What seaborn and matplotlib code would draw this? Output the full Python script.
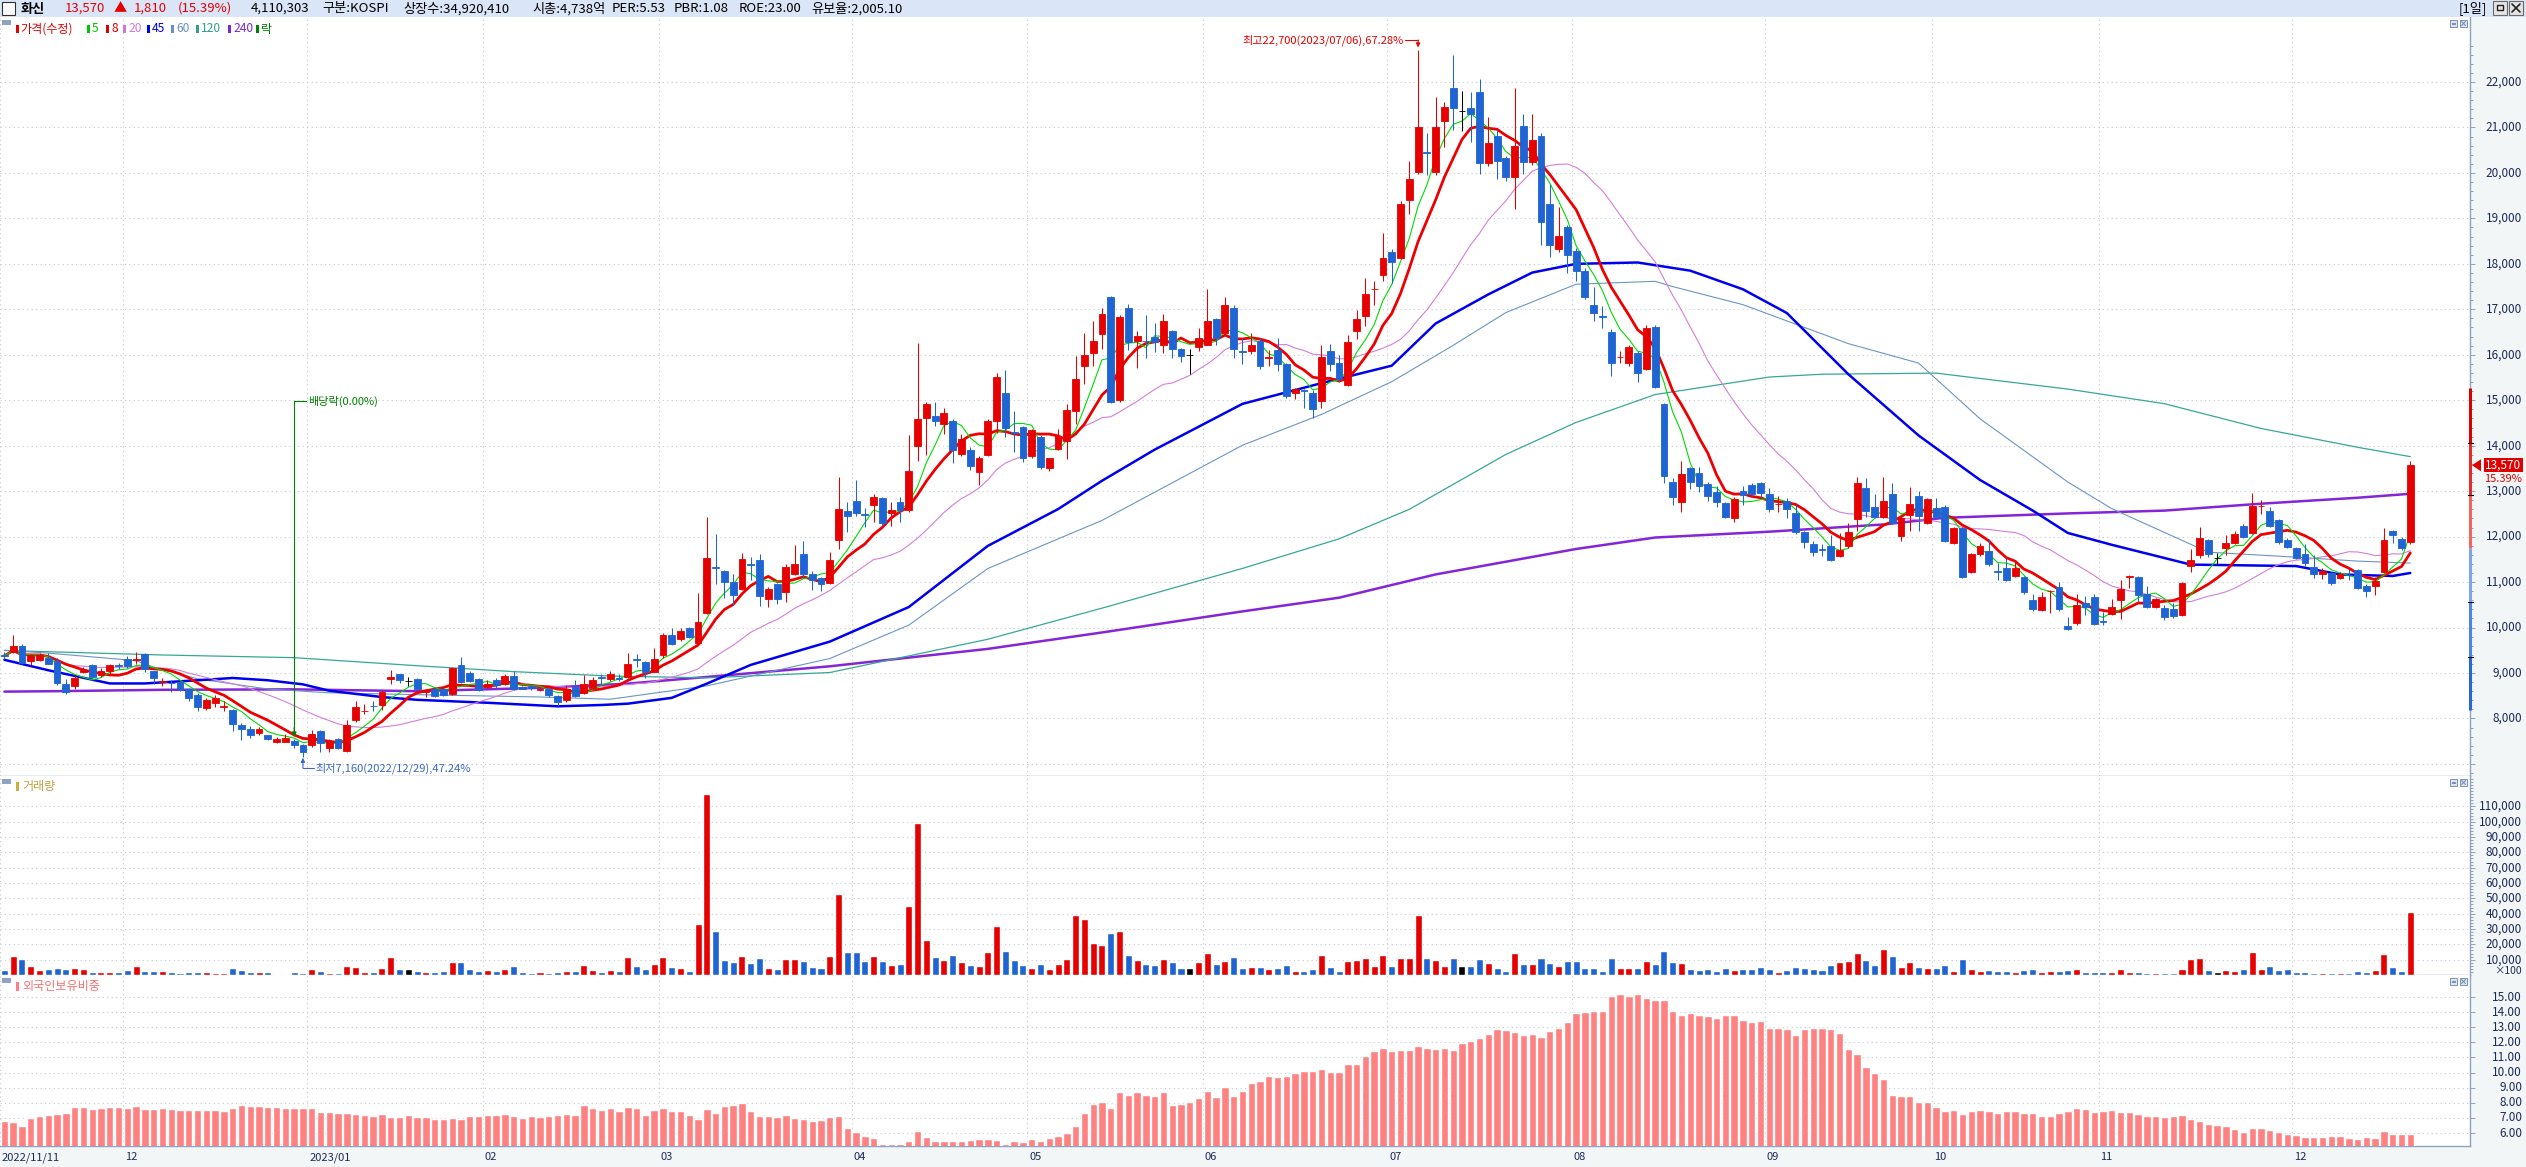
import numpy as np
import pandas as pd
import matplotlib
matplotlib.use('Agg')
import matplotlib.pyplot as plt
import matplotlib.transforms as mtransforms
from matplotlib.patches import Rectangle, Polygon
from matplotlib.lines import Line2D
from matplotlib.ticker import FixedLocator
import seaborn as sns

# ---- daily candles (2022/11/11 .. 2023/12) ----
opens = [
    9400, 9454, 9603, 9254, 9288, 9337, 9271, 8747, 8722, 9030,
    9171, 8955, 9038, 9170, 9304, 9280, 9420, 9038, 8810, 8790,
    8805, 8639, 8523, 8224, 8340, 8260, 8190, 7858, 7774, 7675,
    7625, 7492, 7492, 7509, 7425, 7409, 7724, 7359, 7542, 7276,
    7957, 8160, 8280, 8290, 8872, 8972, 8814, 8870, 8590, 8640,
    8640, 8540, 9170, 8990, 8875, 8700, 8855, 8766, 8933, 8700,
    8720, 8630, 8640, 8500, 8395, 8700, 8570, 8678, 8920, 8875,
    8880, 8913, 9300, 9247, 9031, 9404, 9835, 9756, 9991, 9658,
    10325, 11330, 11250, 11010, 10854, 11390, 11480, 10619, 10952, 10775,
    11187, 11618, 11187, 11090, 10980, 11920, 12568, 12792, 12490, 12692,
    12842, 12518, 12767, 12593, 14000, 14610, 14660, 14473, 14535, 13813,
    13912, 13414, 13788, 14535, 15157, 14300, 14410, 13763, 14187, 13514,
    13937, 14100, 14759, 15755, 16029, 16465, 17274, 14996, 17025, 16303,
    16310, 16400, 16216, 16527, 16116, 16000, 16180, 16216, 16776, 16477,
    17025, 16090, 16080, 16304, 15930, 16112, 15792, 15168, 15220, 15168,
    14992, 16080, 15824, 15344, 16528, 16848, 17440, 17744, 18256, 18128,
    19408, 20016, 20460, 20016, 21136, 21872, 21360, 21424, 21776, 20208,
    20816, 20336, 19920, 21040, 20240, 20816, 19312, 18320, 18800, 18288,
    17840, 17104, 16860, 16496, 15940, 15824, 16048, 15696, 16600, 14923,
    13209, 12769, 13503, 13405, 13160, 12989, 12744, 12402, 13014, 13136,
    13185, 12940, 12710, 12793, 12524, 12108, 11838, 11725, 11790, 11569,
    11790, 12377, 13062, 12647, 12426, 12940, 12010, 12475, 12891, 12303,
    12622, 12647, 11863, 12181, 11226, 11618, 11692, 11235, 11300, 11128,
    11104, 10614, 10394, 10800, 10884, 10040, 10110, 10546, 10677, 10140,
    10307, 10611, 11110, 11112, 10742, 10459, 10437, 10415, 10285, 11352,
    11592, 11918, 11526, 11744, 11853, 12223, 12071, 12670, 12571, 12376,
    11918, 11744, 11613, 11330, 11178, 11200, 11091, 11160, 11265, 10916,
    10916, 11221, 12114, 11940, 11875,
]
highs = [
    9460, 9828, 9636, 9420, 9437, 9437, 9337, 8872, 8955, 9130,
    9188, 9104, 9188, 9230, 9370, 9470, 9437, 9054, 8889, 8839,
    8839, 8672, 8556, 8440, 8507, 8373, 8207, 7907, 7841, 7808,
    7642, 7592, 7658, 7558, 7442, 7741, 7741, 7542, 7575, 7974,
    8390, 8323, 8373, 8623, 9070, 8972, 8922, 8890, 8640, 8700,
    8660, 9130, 9345, 9050, 8895, 8855, 8895, 8970, 9050, 8720,
    8760, 8660, 8680, 8520, 8740, 8845, 8953, 8915, 8980, 9050,
    8972, 9443, 9420, 9267, 9541, 9874, 9991, 9991, 10011, 10756,
    12441, 12050, 11270, 11167, 11638, 11560, 11618, 10893, 10972, 11400,
    11814, 11912, 11246, 11109, 11670, 13315, 12767, 13240, 12630, 12940,
    12866, 12767, 12866, 14236, 16253, 14958, 14958, 14822, 14585, 14262,
    13962, 13763, 14585, 15605, 15655, 14760, 14435, 14361, 14237, 13738,
    14360, 14909, 15967, 16477, 16751, 17025, 17300, 16876, 17124, 16527,
    16876, 16700, 16900, 16552, 16154, 16129, 16582, 17448, 16801, 17274,
    17100, 16368, 16480, 16368, 16096, 16368, 15824, 15264, 15248, 15216,
    16208, 16240, 15984, 16432, 16976, 17680, 17616, 18672, 18320, 19376,
    20272, 22700, 20880, 21680, 21552, 22600, 21808, 21776, 22064, 21232,
    20944, 20368, 21872, 21296, 21296, 20880, 19760, 19248, 18864, 18352,
    17904, 17488, 17072, 16560, 16080, 16208, 16080, 16656, 16650, 14950,
    13283, 13674, 13528, 13528, 13209, 13111, 12769, 12867, 13111, 13185,
    13209, 13062, 12891, 12842, 12695, 12132, 11912, 11838, 12034, 12083,
    12304, 13307, 13283, 12940, 13307, 13185, 12426, 13087, 13014, 12842,
    12842, 12695, 12206, 12206, 11643, 11863, 11937, 11422, 11520, 11471,
    11128, 10737, 10786, 10815, 11010, 10240, 10742, 10698, 10742, 10350,
    10633, 11047, 11156, 11134, 10916, 10655, 10502, 10546, 11003, 11722,
    12201, 11940, 11635, 12027, 12114, 12267, 12963, 12811, 12659, 12398,
    11962, 11766, 11831, 11591, 11308, 11221, 11221, 11287, 11287, 10960,
    11112, 12180, 12136, 11984, 13671,
]
lows = [
    9300, 9437, 9188, 9171, 9254, 9188, 8730, 8540, 8647, 8990,
    8900, 8922, 8980, 9080, 9104, 9188, 9021, 8756, 8722, 8590,
    8606, 8390, 8174, 8190, 8257, 8174, 7733, 7525, 7575, 7642,
    7525, 7459, 7475, 7342, 7160, 7376, 7259, 7259, 7326, 7259,
    7924, 8090, 8174, 8190, 8756, 8772, 8706, 8620, 8480, 8470,
    8500, 8520, 8780, 8795, 8600, 8680, 8680, 8737, 8620, 8640,
    8620, 8600, 8480, 8265, 8365, 8480, 8540, 8620, 8737, 8815,
    8815, 8895, 9140, 8895, 9012, 9325, 9620, 9698, 9776, 9620,
    10305, 10950, 10660, 10500, 10815, 11050, 10480, 10442, 10521, 10560,
    11148, 11088, 10834, 10795, 10950, 11733, 12107, 12443, 12220, 12318,
    12244, 12244, 12318, 12543, 13664, 13788, 14436, 14262, 13614, 13763,
    13464, 13141, 13763, 14286, 14187, 13863, 13638, 13738, 13489, 13440,
    13912, 13713, 14473, 15357, 15755, 16130, 14934, 14960, 16104, 15705,
    15929, 16055, 16030, 15930, 15842, 15580, 16080, 16204, 16204, 16427,
    15930, 15792, 16016, 15696, 15760, 15632, 15056, 15024, 14832, 14608,
    14832, 15632, 15408, 15312, 16336, 16624, 17104, 17616, 17584, 18096,
    19088, 19984, 19952, 19952, 20560, 20944, 20912, 20688, 19984, 20144,
    19856, 19824, 19216, 19984, 20176, 18416, 18160, 18256, 17808, 17616,
    17232, 16752, 16592, 15536, 15824, 15760, 15408, 15664, 15270, 13185,
    12695, 12548, 13038, 12989, 12793, 12646, 12402, 12328, 12695, 12891,
    12867, 12548, 12548, 12402, 12059, 11740, 11569, 11569, 11471, 11545,
    11740, 12132, 12426, 12402, 12402, 12279, 11912, 12132, 12132, 12279,
    12377, 11887, 11838, 11079, 11201, 11569, 11349, 11055, 11030, 11104,
    10737, 10369, 10369, 10320, 10369, 9940, 10045, 10285, 10045, 10045,
    10285, 10198, 10873, 10568, 10437, 10437, 10176, 10220, 10263, 11221,
    11526, 11548, 11374, 11591, 11831, 11962, 12049, 12506, 12201, 11831,
    11744, 11504, 11352, 11091, 11069, 10938, 11069, 11047, 10851, 10677,
    10720, 11200, 11853, 11700, 11830,
]
closes = [
    9380, 9603, 9221, 9387, 9387, 9204, 8789, 8573, 8889, 9070,
    8922, 9038, 9171, 9150, 9154, 9312, 9088, 8889, 8830, 8770,
    8639, 8457, 8257, 8407, 8440, 8280, 7874, 7758, 7625, 7758,
    7542, 7558, 7575, 7409, 7259, 7658, 7459, 7509, 7359, 7858,
    8257, 8170, 8270, 8590, 8922, 8839, 8814, 8650, 8600, 8490,
    8520, 9110, 8800, 8815, 8620, 8757, 8737, 8933, 8640, 8650,
    8680, 8640, 8520, 8365, 8640, 8500, 8767, 8855, 8900, 8972,
    8870, 9188, 9285, 9012, 9306, 9835, 9639, 9913, 9796, 10129,
    11540, 11310, 11010, 10717, 11500, 11370, 10697, 10854, 10619, 11324,
    11400, 11167, 11050, 10950, 11490, 12605, 12443, 12518, 12480, 12866,
    12294, 12593, 12593, 13440, 14597, 14908, 14535, 14722, 13912, 14137,
    13564, 13726, 14535, 15506, 14386, 14280, 13738, 14336, 13540, 13726,
    14211, 14784, 15456, 16004, 16303, 16900, 14971, 16826, 16278, 16403,
    16300, 16280, 16751, 16130, 15980, 16000, 16378, 16751, 16378, 17087,
    16130, 16070, 16208, 15760, 15940, 15792, 15088, 15248, 15210, 14816,
    15952, 15792, 15472, 16272, 16784, 17328, 17456, 18128, 18032, 19312,
    19872, 21008, 20448, 21008, 21456, 21424, 21360, 21296, 20208, 20656,
    20272, 19920, 20592, 20240, 20720, 18928, 18416, 18608, 18192, 17840,
    17264, 16912, 16840, 15824, 15960, 16176, 15600, 16592, 15300, 13332,
    12867, 13381, 13209, 13111, 12891, 12769, 12426, 12818, 12916, 12940,
    12964, 12597, 12720, 12597, 12108, 11887, 11667, 11715, 11496, 11716,
    12108, 13185, 12573, 12426, 12793, 12303, 12402, 12720, 12450, 12818,
    12426, 11912, 12181, 11104, 11618, 11790, 11398, 11225, 11055, 11300,
    10786, 10418, 10663, 10810, 10410, 9960, 10502, 10459, 10067, 10132,
    10459, 10851, 11123, 10720, 10459, 10633, 10241, 10263, 10981, 11483,
    11962, 11613, 11526, 11853, 12049, 11984, 12680, 12680, 12223, 11875,
    11766, 11526, 11417, 11178, 11243, 10982, 11178, 11150, 10873, 10807,
    11025, 11918, 12027, 11760, 13570,
]
# volume, in units of 100 shares (axis label "x100")
volumes = [
    3250, 12500, 10500, 6000, 3500, 4000, 4750, 4000, 4750, 4000,
    2000, 2000, 2000, 2000, 3500, 6000, 2750, 2750, 2750, 2000,
    1500, 2000, 2000, 2000, 1500, 1500, 4750, 3500, 2000, 2000,
    2000, 750, 750, 2000, 1500, 4000, 2750, 1500, 1500, 6000,
    5250, 2000, 2000, 4750, 12000, 4000, 3700, 2330, 1750, 1750,
    2330, 8450, 8450, 3790, 2330, 3200, 2330, 3790, 5830, 1750,
    1170, 1750, 1170, 1750, 2330, 2330, 6400, 3500, 1750, 3200,
    2330, 11660, 5830, 3790, 7000, 11660, 4960, 4370, 2330, 33240,
    118000, 28570, 9620, 8450, 12540, 7580, 10790, 4370, 3790, 10500,
    10500, 9040, 4960, 4370, 12240, 52670, 14840, 14840, 8900, 12610,
    8900, 6310, 7420, 45250, 99030, 22630, 11500, 10010, 13350, 8160,
    6310, 5560, 15210, 32270, 15950, 9640, 6310, 4820, 7420, 3710,
    7420, 10760, 38950, 36350, 20770, 19290, 27080, 28930, 13350, 10010,
    7420, 6310, 10760, 8160, 4450, 4450, 8160, 14100, 7050, 8900,
    11500, 4750, 5230, 5230, 3800, 4280, 6650, 2850, 2850, 3800,
    13310, 5230, 2380, 9030, 9980, 11410, 5700, 13310, 5700, 11410,
    11410, 38970, 10930, 9510, 6180, 10930, 5700, 6180, 10460, 7600,
    4280, 2850, 14260, 7130, 7130, 10930, 7600, 5700, 9030, 9030,
    4750, 4280, 2380, 10930, 4280, 4280, 4280, 9030, 7200, 15600,
    8700, 7980, 3990, 3260, 3990, 2900, 4720, 3260, 3990, 3990,
    5440, 3990, 2180, 3260, 5440, 4720, 3990, 3260, 6530, 8700,
    9430, 14510, 9790, 6530, 17050, 12700, 5440, 8700, 5440, 4720,
    4720, 6530, 2900, 10520, 3990, 2900, 3260, 2900, 2900, 2180,
    3260, 3990, 2180, 2900, 2930, 3250, 4230, 1950, 1950, 1950,
    1950, 4230, 2280, 2280, 1630, 1300, 1300, 1300, 4230, 10730,
    11380, 3250, 2280, 3580, 2930, 4230, 15280, 4230, 6180, 3580,
    4230, 2280, 2280, 1630, 1300, 1630, 1300, 1300, 2930, 1950,
    3250, 13980, 5530, 2930, 41100,
]
# foreign ownership ratio (%)
foreign_ratio = [
    6.80, 6.72, 6.46, 6.99, 7.12, 7.20, 7.25, 7.32, 7.73, 7.73,
    7.58, 7.65, 7.73, 7.73, 7.65, 7.78, 7.58, 7.58, 7.65, 7.58,
    7.52, 7.52, 7.52, 7.52, 7.52, 7.45, 7.65, 7.85, 7.78, 7.78,
    7.73, 7.73, 7.65, 7.65, 7.65, 7.65, 7.38, 7.38, 7.32, 7.32,
    7.25, 7.20, 7.12, 7.25, 7.05, 7.05, 7.20, 7.08, 7.08, 6.96,
    6.90, 7.02, 6.96, 7.14, 7.14, 7.20, 7.20, 7.26, 7.14, 7.02,
    7.14, 7.08, 7.14, 7.20, 7.26, 7.20, 7.88, 7.67, 7.55, 7.67,
    7.49, 7.73, 7.67, 7.20, 7.55, 7.67, 7.43, 7.43, 7.20, 6.96,
    7.61, 7.34, 7.76, 7.88, 7.99, 7.43, 7.14, 7.14, 7.08, 7.20,
    7.02, 6.90, 6.79, 6.84, 7.04, 7.15, 6.32, 6.06, 5.80, 5.68,
    5.27, 5.27, 5.27, 5.46, 6.13, 5.75, 5.46, 5.46, 5.44, 5.44,
    5.53, 5.59, 5.59, 5.53, 5.27, 5.44, 5.40, 5.59, 5.46, 5.68,
    5.80, 6.02, 6.48, 7.34, 7.90, 8.05, 7.68, 8.73, 8.54, 8.73,
    8.54, 8.46, 8.73, 7.87, 7.94, 8.05, 8.32, 8.81, 8.39, 9.07,
    8.46, 8.78, 9.31, 9.46, 9.79, 9.70, 9.79, 9.94, 10.09, 10.09,
    10.23, 10.05, 10.05, 10.57, 10.57, 11.10, 11.43, 11.62, 11.43, 11.47,
    11.47, 11.77, 11.62, 11.58, 11.62, 11.47, 11.96, 12.06, 12.30, 12.54,
    12.87, 12.82, 12.69, 12.50, 12.54, 12.35, 12.74, 12.97, 13.36, 13.93,
    13.98, 14.08, 14.08, 15.09, 15.18, 15.09, 15.18, 14.97, 14.78, 14.79,
    14.05, 13.83, 13.94, 13.79, 13.72, 13.61, 13.83, 13.83, 13.46, 13.35,
    13.42, 12.95, 12.95, 12.87, 12.47, 12.87, 12.95, 12.95, 12.87, 12.62,
    11.55, 11.22, 10.38, 9.97, 9.57, 8.50, 8.43, 8.43, 8.06, 8.06,
    7.70, 7.44, 7.51, 7.25, 7.44, 7.51, 7.44, 7.33, 7.44, 7.44,
    7.33, 7.33, 7.14, 7.14, 7.33, 7.44, 7.66, 7.59, 7.37, 7.47,
    7.53, 7.37, 7.37, 7.24, 7.14, 7.14, 7.08, 7.14, 7.17, 6.94,
    6.77, 6.58, 6.51, 6.45, 6.25, 6.05, 6.32, 6.32, 6.18, 6.05,
    5.92, 5.85, 5.72, 5.72, 5.72, 5.78, 5.78, 5.65, 5.58, 5.72,
    5.65, 6.12, 5.92, 5.92, 5.92,
]

# long moving averages (need history before the window): read at sample bars
ma45_idx = [0, 5, 12, 16, 22, 26, 30, 34, 37, 43, 47, 55, 63, 68, 71, 76, 80, 85, 94,
            103, 112, 120, 125, 131, 141, 150, 158, 163, 169, 174, 179, 186, 192, 198,
            203, 210, 218, 225, 231, 235, 240, 249, 261, 266, 272, 274]
ma45_val = [9290, 9060, 8770, 8770, 8840, 8890, 8840, 8750, 8610, 8470, 8410, 8345, 8267,
            8296, 8325, 8453, 8766, 9178, 9690, 10451, 11796, 12605, 13228, 13913, 14920,
            15376, 15760, 16688, 17328, 17808, 18000, 18030, 17850, 17440, 16918, 15572,
            14225, 13246, 12573, 12080, 11820, 11384, 11352, 11167, 11134, 11200]
ma60_idx = [0, 5, 15, 17, 22, 30, 37, 47, 61, 69, 80, 94, 103, 112, 125, 141, 150, 158,
            165, 171, 179, 188, 190, 198, 210, 218, 225, 235, 240, 246, 251, 261, 268, 274]
ma60_val = [9500, 9437, 9271, 9130, 8872, 8647, 8564, 8523, 8472, 8423, 8717, 9318, 10053,
            11298, 12356, 14010, 14688, 15408, 16208, 16928, 17552, 17616, 17500, 17102,
            16245, 15817, 14592, 13200, 12615, 12092, 11657, 11548, 11461, 11417]
ma120_idx = [0, 18, 33, 47, 58, 69, 80, 94, 112, 125, 141, 152, 160, 171, 179, 188, 201,
             207, 220, 235, 246, 257, 268, 274]
ma120_val = [9495, 9396, 9337, 9160, 9030, 8933, 8894, 9010, 9742, 10426, 11300, 11950,
             12600, 13808, 14512, 15125, 15510, 15572, 15596, 15245, 14924, 14379, 13965, 13759]
ma240_idx = [0, 6, 18, 33, 47, 62, 71, 80, 94, 112, 125, 141, 152, 163, 179, 188, 201, 214,
             221, 235, 246, 257, 268, 274]
ma240_val = [8590, 8600, 8630, 8640, 8600, 8678, 8766, 8913, 9147, 9530, 9891, 10355, 10656,
             11168, 11728, 11980, 12108, 12267, 12414, 12510, 12572, 12724, 12855, 12942]

# month boundaries (bar index of first trading day) and their labels
month_start = [0, 14, 35, 55, 75, 97, 117, 137, 158, 179, 201, 220, 239, 261]
month_labels = ['2022/11/11', '12', '2023/01', '02', '03', '04', '05', '06', '07', '08',
                '09', '10', '11', '12']

# price-distribution bar on the right axis: level boundaries
range_levels = [15269, 14059, 12915, 11749, 10562, 9352, 8186]

high_bar, high_val = 161, 22700
low_bar, low_val = 34, 7160
exdiv_bar = 33

n = len(closes)
assert all(len(a) == n for a in (opens, highs, lows, volumes, foreign_ratio))

# ---------------- style ----------------
sns.set_style('white')
FAM = ['Noto Sans CJK KR', 'DejaVu Sans']
plt.rcParams['font.family'] = FAM
plt.rcParams['axes.unicode_minus'] = False

RED, BLUE, BLACK = '#e60000', '#1e64d2', '#000000'
AXC, LABC, GRIDC = '#8ea2c2', '#1c2a5a', '#c3cad4'
FORC = '#ff8282'
PAL = {'up': RED, 'down': BLUE, 'flat': BLACK}

W, H = 2526, 1167
def fx(px):
    return px / W
def fy(py):
    return 1 - py / H

PLOT_R = 2470
BAR0, STEP = 4.3, 8.781          # pixel centre of bar 0 and bar pitch
XL = -BAR0 / STEP
XR = (PLOT_R - BAR0) / STEP

fig = plt.figure(figsize=(W / 100, H / 100), dpi=100, facecolor='#f2f6f6')
ax_p = fig.add_axes([0, fy(775.5), fx(PLOT_R), (775.5 - 17) / H])
ax_v = fig.add_axes([0, fy(975), fx(PLOT_R), (975 - 775.5) / H])
ax_f = fig.add_axes([0, fy(1146), fx(PLOT_R), (1146 - 975) / H])

idx = np.arange(n)
O, Hh, L, C = map(np.asarray, (opens, highs, lows, closes))
direction = np.where(C > O, 'up', np.where(C < O, 'down', 'flat'))
cols = [PAL[d] for d in direction]

# ---------------- price panel ----------------
close_s = pd.Series(closes, dtype=float)
ma5 = close_s.rolling(5, min_periods=1).mean()
ma8 = close_s.rolling(8, min_periods=1).mean()
ma20 = close_s.rolling(20, min_periods=1).mean()

sns.lineplot(x=ma240_idx, y=ma240_val, ax=ax_p, color='#8426d6', linewidth=1.8, zorder=2)
sns.lineplot(x=ma120_idx, y=ma120_val, ax=ax_p, color='#36a894', linewidth=0.9, zorder=2)
sns.lineplot(x=ma60_idx, y=ma60_val, ax=ax_p, color='#6996c4', linewidth=0.8, zorder=2)
sns.lineplot(x=ma45_idx, y=ma45_val, ax=ax_p, color='#0000f0', linewidth=1.8, zorder=2)
sns.lineplot(x=idx, y=ma20, ax=ax_p, color='#d57ed8', linewidth=0.8, zorder=2)
sns.lineplot(x=idx, y=ma8, ax=ax_p, color='#ee0000', linewidth=2.0, zorder=2)
sns.lineplot(x=idx, y=ma5, ax=ax_p, color='#00dc00', linewidth=0.8, zorder=2)

ax_p.vlines(idx, L, Hh, colors=cols, linewidth=0.75, zorder=3)
ax_p.bar(idx, np.abs(C - O), bottom=np.minimum(O, C), width=0.78, color=cols,
         edgecolor=cols, linewidth=0.6, zorder=4)

# ---------------- volume panel ----------------
vol_df = pd.DataFrame({'idx': idx, 'vol': volumes, 'dir': direction})
sns.barplot(data=vol_df, x='idx', y='vol', hue='dir', palette=PAL, dodge=False,
            legend=False, saturation=1, width=0.8, errorbar=None, ax=ax_v, zorder=3)

# ---------------- foreign ownership panel ----------------
sns.barplot(x=idx, y=foreign_ratio, color=FORC, saturation=1, width=0.84,
            errorbar=None, ax=ax_f, zorder=3)

month_pos = [m - 0.5 for m in month_start]
grid_kw = dict(color=GRIDC, linestyle=(0, (1, 3)), linewidth=0.8)

def style(ax, ylim, majors, minors, labels, fmt, fs=8.5):
    ax.set_xlim(XL, XR)
    ax.set_ylim(*ylim)
    ax.set_xlabel('')
    ax.set_ylabel('')
    ax.set_facecolor('white')
    for s in ('left', 'top'):
        ax.spines[s].set_visible(False)
    for s in ('right', 'bottom'):
        ax.spines[s].set_color(AXC)
        ax.spines[s].set_linewidth(1.0)
    ax.yaxis.tick_right()
    ax.yaxis.set_major_locator(FixedLocator(majors))
    ax.yaxis.set_minor_locator(FixedLocator(minors))
    ax.set_xticks(month_pos)
    ax.tick_params(axis='y', which='major', length=3.6, width=0.72, colors=AXC,
                   labelright=False, labelleft=False)
    ax.tick_params(axis='y', which='minor', length=2.2, width=0.72, colors=AXC)
    ax.tick_params(axis='x', length=0, labelbottom=False)
    ax.grid(True, which='major', axis='both', **grid_kw)
    ax.set_axisbelow(True)
    tr = mtransforms.blended_transform_factory(ax.transAxes, ax.transData)
    for v in labels:
        ax.text(2522 / PLOT_R, v, fmt(v), transform=tr, ha='right', va='center',
                fontsize=fs, color=LABC, clip_on=False)
    return tr

tr_p = style(ax_p, (6745, 23430), list(range(7000, 22001, 1000)),
             list(range(6800, 22801, 200)), range(8000, 22001, 1000), lambda v: f'{v:,}')
style(ax_v, (0, 130137), list(range(10000, 110001, 10000)),
      list(range(2000, 128001, 2000)), range(10000, 110001, 10000), lambda v: f'{v:,}')
style(ax_f, (5.14, 16.46), list(range(6, 16)), [], range(6, 16), lambda v: f'{v:.2f}')
ax_f.tick_params(axis='x', length=3.6, width=0.72, colors=AXC)
ax_v.text(2522 / PLOT_R, 0.022, '×100', transform=ax_v.transAxes, ha='right',
          va='center', fontsize=7.5, color=LABC, clip_on=False)

# month labels under the bottom panel
for m, lab in zip(month_start, month_labels):
    px = BAR0 + STEP * (m - 0.5)
    fig.text(fx(px + 2), fy(1157.5), lab, ha='left', va='center', fontsize=8,
             color=LABC)

# ---------------- annotations ----------------
GREEN = '#008000'
ax_p.plot([exdiv_bar, exdiv_bar], [7700, 14978], color=GREEN, linewidth=0.8, zorder=5)
ax_p.plot([exdiv_bar, exdiv_bar + 1.4], [14978, 14978], color=GREEN, linewidth=0.8, zorder=5)
ax_p.annotate('', xy=(exdiv_bar, 7590), xytext=(exdiv_bar, 7800),
              arrowprops=dict(arrowstyle='-|>', color=GREEN, lw=0.8, mutation_scale=7,
                              shrinkA=0, shrinkB=0), zorder=5)
ax_p.text(exdiv_bar + 1.55, 14978, '배당락(0.00%)', color=GREEN, fontsize=8,
          va='center', ha='left', zorder=6)

LOWC = '#3a68c8'
ax_p.plot([low_bar, low_bar + 1.3], [6905, 6905], color=LOWC, linewidth=0.8, zorder=5)
ax_p.annotate('', xy=(low_bar, low_val - 25), xytext=(low_bar, 6905),
              arrowprops=dict(arrowstyle='-|>', color=LOWC, lw=0.8, mutation_scale=6,
                              shrinkA=0, shrinkB=0), zorder=5)
ax_p.text(low_bar + 1.45, 6905, f'최저{low_val:,}(2022/12/29),47.24%', color=LOWC,
          fontsize=8, va='center', ha='left', zorder=6)

ax_p.plot([high_bar - 1.5, high_bar], [22924, 22924], color=RED, linewidth=0.8, zorder=5)
ax_p.annotate('', xy=(high_bar, 22760), xytext=(high_bar, 22924),
              arrowprops=dict(arrowstyle='-|>', color=RED, lw=0.8, mutation_scale=6,
                              shrinkA=0, shrinkB=0), zorder=5)
ax_p.text(high_bar - 1.6, 22924, f'최고{high_val:,}(2023/07/06),67.28%', color=RED,
          fontsize=8, va='center', ha='right', zorder=6)

# price-distribution bar on the axis line
seg_cols = ['#d80000', '#e52a2a', '#f06464', '#7ea6e6', '#4a86de', '#2468d4']
for (a, b), c in zip(zip(range_levels[:-1], range_levels[1:]), seg_cols):
    ax_p.plot([1.0, 1.0], [a, b], transform=tr_p, color=c, linewidth=2.2,
              solid_capstyle='butt', clip_on=False, zorder=6)
for lv in (range_levels[1], range_levels[2], range_levels[4], range_levels[5]):
    ax_p.plot([0.9992, 1.0012], [lv, lv], transform=tr_p, color='black', linewidth=0.8,
              clip_on=False, zorder=7)

# last price tag
last = closes[-1]
pp = 16685 / 758.5  # price units per pixel
ax_p.add_patch(Rectangle((2484 / PLOT_R, last - 7 * pp), 39 / PLOT_R, 14 * pp,
                         transform=tr_p, facecolor='#e00000', edgecolor='none',
                         clip_on=False, zorder=7))
ax_p.add_patch(Polygon([(2472 / PLOT_R, last), (2481 / PLOT_R, last + 6 * pp),
                        (2481 / PLOT_R, last - 6 * pp)], closed=True, transform=tr_p,
                       facecolor='#e00000', edgecolor='none', clip_on=False, zorder=7))
ax_p.text(2503.5 / PLOT_R, last, f'{last:,}', transform=tr_p, ha='center', va='center',
          fontsize=8.5, color='white', clip_on=False, zorder=8)
ax_p.text(2522 / PLOT_R, last - 14 * pp, '15.39%', transform=tr_p, ha='right',
          va='center', fontsize=8, color='#e00000', clip_on=False, zorder=8)

# ---------------- header bar ----------------
def frect(x0, y0, x1, y1, **kw):
    fig.add_artist(Rectangle((fx(x0), fy(y1)), (x1 - x0) / W, (y1 - y0) / H,
                             transform=fig.transFigure, **kw))

frect(0, 0, W, 17, facecolor='#dae6f8', edgecolor='none', zorder=10)
frect(2, 2, 15, 15, facecolor='white', edgecolor='#303030', linewidth=0.8, zorder=11)
header = [
    (21, '화신', BLACK, 'bold'), (65, '13,570', RED, 'normal'), (114, '▲', RED, 'normal'),
    (134, '1,810', RED, 'normal'), (178, '(15.39%)', RED, 'normal'),
    (251, '4,110,303', BLACK, 'normal'), (322, '구분:KOSPI', BLACK, 'normal'),
    (403, '상장수:34,920,410', BLACK, 'normal'), (532, '시총:4,738억', BLACK, 'normal'),
    (612, 'PER:5.53', BLACK, 'normal'), (674, 'PBR:1.08', BLACK, 'normal'),
    (739, 'ROE:23.00', BLACK, 'normal'), (811, '유보율:2,005.10', BLACK, 'normal'),
]
for x0, s, c, wgt in header:
    fig.text(fx(x0), fy(8.5), s, ha='left', va='center', fontsize=9.5, color=c,
             fontweight=wgt, zorder=12)
fig.text(fx(2459), fy(8.5), '[1일]', ha='left', va='center', fontsize=9.5,
         color=BLACK, zorder=12)
for x0 in (2493, 2509):
    frect(x0, 1, x0 + 14, 15, facecolor='#e4e4e4', edgecolor='#6a6a6a', linewidth=0.8,
          zorder=11)
frect(2497, 5, 2503, 10, facecolor='none', edgecolor='#202020', linewidth=1.0, zorder=12)
fig.add_artist(Line2D([fx(2512), fx(2520)], [fy(4), fy(12)], color='#202020', lw=1.2,
                      transform=fig.transFigure, zorder=12))
fig.add_artist(Line2D([fx(2512), fx(2520)], [fy(12), fy(4)], color='#202020', lw=1.2,
                      transform=fig.transFigure, zorder=12))

# panel buttons and titles
for ytop in (20, 779, 978):
    frect(2, ytop, 11, ytop + 5, facecolor=AXC, edgecolor='none', zorder=11)
    for x0 in (2450, 2460):
        frect(x0, ytop, x0 + 7, ytop + 7, facecolor='#dde4ee', edgecolor='#7d93b5',
              linewidth=0.7, zorder=11)
    frect(2451.5, ytop + 2.5, 2455.5, ytop + 4.5, facecolor='#7d93b5', edgecolor='none',
          zorder=12)
    fig.add_artist(Line2D([fx(2461.5), fx(2465.5)], [fy(ytop + 1.5), fy(ytop + 5.5)],
                          color='#7d93b5', lw=0.8, transform=fig.transFigure, zorder=12))
    fig.add_artist(Line2D([fx(2461.5), fx(2465.5)], [fy(ytop + 5.5), fy(ytop + 1.5)],
                          color='#7d93b5', lw=0.8, transform=fig.transFigure, zorder=12))

legend_items = [
    (15.5, 20, '가격(수정)', '#e00000'), (87, 92, '5', '#00c800'), (106, 111, '8', '#e00000'),
    (123, 128, '20', '#d078d0'), (147, 152, '45', '#0000f0'), (171, 176, '60', '#6890c0'),
    (196, 201, '120', '#2ea08c'), (228, 233, '240', '#8028d0'), (256, 261, '락', '#008000'),
]
for mx, tx, s, c in legend_items:
    frect(mx, 25, mx + 3, 33, facecolor=c, edgecolor='none', zorder=11)
    fig.text(fx(tx), fy(29), s, ha='left', va='center', fontsize=8.7, color=c, zorder=12)

frect(16, 782, 19, 791, facecolor='#c8b040', edgecolor='none', zorder=11)
fig.text(fx(22), fy(786.5), '거래량', ha='left', va='center', fontsize=8.7,
         color='#c0a040', zorder=12)
frect(16, 982, 19, 991, facecolor=FORC, edgecolor='none', zorder=11)
fig.text(fx(22), fy(986.5), '외국인보유비중', ha='left', va='center', fontsize=8.7,
         color='#ff7070', zorder=12)

fig.savefig('out.png', dpi=100, facecolor=fig.get_facecolor())
